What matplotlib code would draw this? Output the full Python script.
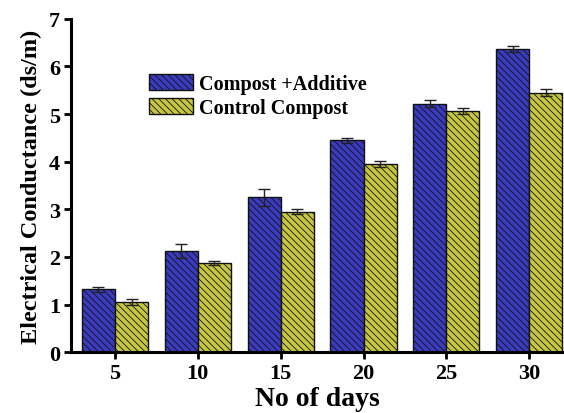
import numpy as np
import matplotlib
matplotlib.use('Agg')
import matplotlib.pyplot as plt

plt.rcParams['font.family'] = ['Liberation Serif', 'DejaVu Serif']
plt.rcParams['font.weight'] = 'bold'
plt.rcParams['hatch.linewidth'] = 0.6
plt.rcParams['hatch.color'] = '#1a1a1a'

# Datos
dias = [5, 10, 15, 20, 25, 30]
aditivo = [1.32, 2.12, 3.25, 4.45, 5.22, 6.36]
aditivo_err = [0.05, 0.15, 0.17, 0.05, 0.07, 0.06]
control = [1.05, 1.87, 2.95, 3.95, 5.06, 5.45]
control_err = [0.06, 0.04, 0.05, 0.06, 0.06, 0.07]

x = np.array(dias, dtype=float)
ancho = 2.0

fig = plt.figure(figsize=(5.64, 4.14), dpi=100)
ax = fig.add_axes([0.126, 0.147, 0.874, 0.805])

ax.bar(x - ancho / 2, aditivo, ancho, yerr=aditivo_err, color='#3b3bbf',
       edgecolor='#111111', linewidth=1.0, hatch='\\\\\\\\\\',
       error_kw=dict(ecolor='#222222', elinewidth=1.0, capsize=4, capthick=1.0),
       label='Compost +Additive')
ax.bar(x + ancho / 2, control, ancho, yerr=control_err, color='#c6c640',
       edgecolor='#111111', linewidth=1.0, hatch='\\\\\\\\\\',
       error_kw=dict(ecolor='#222222', elinewidth=1.0, capsize=4, capthick=1.0),
       label='Control Compost')

ax.set_xlim(2.35, 32.1)
ax.set_ylim(0, 7)
ax.set_xticks(dias)
ax.set_yticks(range(8))

for s in ['top', 'right']:
    ax.spines[s].set_visible(False)
for s in ['left', 'bottom']:
    ax.spines[s].set_linewidth(2.2)

ax.tick_params(axis='both', direction='out', length=5, width=2, labelsize=16, pad=3)
ax.set_xlabel('No of days', fontsize=20, fontweight='bold', labelpad=2)
ax.set_ylabel('Electrical Conductance (ds/m)', fontsize=17.5, fontweight='bold', labelpad=5)

ax.legend(loc='upper left', bbox_to_anchor=(0.158, 0.835), frameon=False,
          fontsize=14.5, handlelength=2.2, handleheight=0.85, handletextpad=0.3,
          labelspacing=0.2, borderpad=0, borderaxespad=0)

fig.savefig('out.png', dpi=100)
